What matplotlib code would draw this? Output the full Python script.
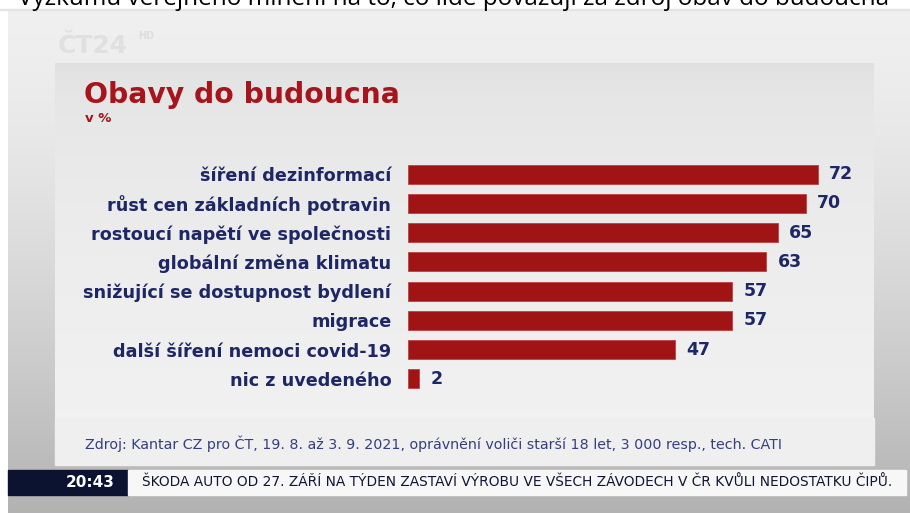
import numpy as np
import matplotlib.pyplot as plt
from matplotlib.patches import Rectangle

# data
categories = ["šíření dezinformací", "růst cen základních potravin",
              "rostoucí napětí ve společnosti", "globální změna klimatu",
              "snižující se dostupnost bydlení", "migrace",
              "další šíření nemoci covid-19", "nic z uvedeného"]
values = [72, 70, 65, 63, 57, 57, 47, 2]

title = "Obavy do budoucna"
subtitle = "v %"
source = ("Zdroj: Kantar CZ pro ČT, 19. 8. až 3. 9. 2021, oprávnění voliči "
          "starší 18 let, 3 000 resp., tech. CATI")
ticker_time = "20:43"
ticker_text = ("ŠKODA AUTO OD 27. ZÁŘÍ NA TÝDEN ZASTAVÍ VÝROBU VE VŠECH "
               "ZÁVODECH V ČR KVŮLI NEDOSTATKU ČIPŮ.")
caption = "Výzkumu veřejného mínění na to, co lidé považují za zdroj obav do budoucna"

RED = "#a01416"
TITLE_RED = "#a8141b"
NAVY = "#1e2766"
W, H = 910, 513

fig = plt.figure(figsize=(W / 100, H / 100), dpi=100)
fig.patch.set_facecolor("white")

# background layer in pixel coordinates
bg = fig.add_axes([0, 0, 1, 1])
bg.set_xlim(0, W)
bg.set_ylim(H, 0)
bg.axis("off")

grad = np.linspace(0, 1, 256).reshape(-1, 1)
screen = np.dstack([0.94 - 0.24 * grad ** 1.5] * 3)
bg.imshow(screen, extent=[8, W, H, 9], aspect="auto", zorder=0)

panel = np.dstack([0.88 + 0.07 * np.sqrt(grad)] * 3)
bg.imshow(panel, extent=[55, 874, 465, 63], aspect="auto", zorder=1)
bg.add_patch(Rectangle((55, 418), 819, 47, color="#efefef", zorder=1))

# faint channel logo
bg.text(58, 46, "ČT24", fontsize=18, fontweight="bold", color="#e0e0e0",
        va="center", zorder=1)
bg.text(138, 36, "HD", fontsize=7, fontweight="bold", color="#dedede",
        va="center", zorder=1)

# ticker
bg.add_patch(Rectangle((8, 470), 120, 25, color="#0b1330", zorder=2))
bg.add_patch(Rectangle((128, 470), 778, 25, color="#f7f7f7", zorder=2))
bg.text(115, 482.5, ticker_time, fontsize=11, fontweight="bold", color="white",
        ha="right", va="center", zorder=3)
bg.text(142, 482.5, ticker_text, fontsize=9.9, color="#0e1632",
        family=["Liberation Sans Narrow", "DejaVu Sans"],
        ha="left", va="center", zorder=3)

# caption cut by the top edge
bg.text(18, -1, caption, fontsize=17.5, color="black", ha="left", va="center",
        family=["Open Sans", "DejaVu Sans"], zorder=3)
bg.add_patch(Rectangle((0, 9), W, 1, color="#e4e4e4", zorder=2))

# titles
bg.text(84, 95, title, fontsize=20.3, fontweight="bold", color=TITLE_RED,
        ha="left", va="center", zorder=3)
bg.text(85, 118, subtitle, fontsize=9.5, fontweight="bold", color=TITLE_RED,
        ha="left", va="center", zorder=3)
bg.text(85, 444, source, fontsize=10.3, color="#34407e",
        family=["Liberation Sans Narrow", "DejaVu Sans"],
        ha="left", va="center", zorder=3)

# bar chart
ax = fig.add_axes([408 / W, 1 - 393.6 / H, 455 / W, (393.6 - 159.4) / H])
ax.patch.set_alpha(0)
y = np.arange(len(categories))
bars = ax.barh(y, values, height=0.65, color=RED, edgecolor="#c04040",
               linewidth=0.6)
ax.set_xlim(0, 80)
ax.set_ylim(len(categories) - 0.5, -0.5)
ax.set_yticks(y)
ax.set_yticklabels(categories, fontsize=12.7, fontweight="bold", color=NAVY)
ax.tick_params(axis="y", length=0, pad=12)
ax.set_xticks([])
for s in ax.spines.values():
    s.set_visible(False)
ax.bar_label(bars, labels=[str(v) for v in values], padding=8,
             fontsize=12.5, fontweight="bold", color=NAVY)

fig.savefig("out.png", dpi=100)
